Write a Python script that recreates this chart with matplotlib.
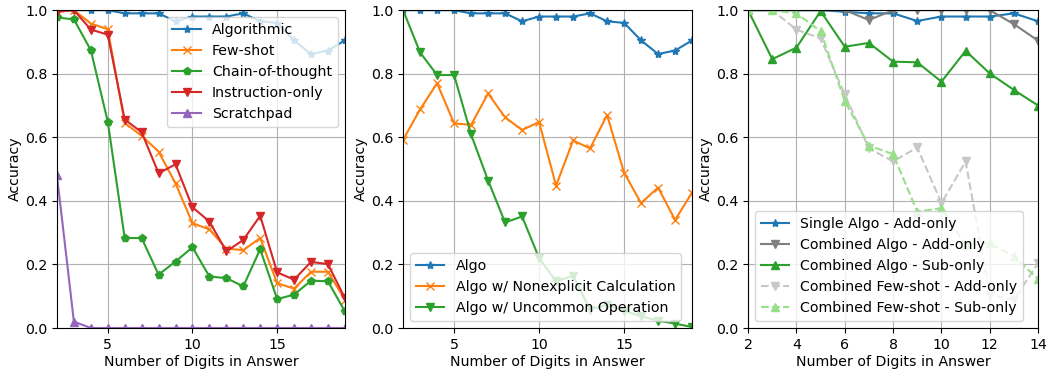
import matplotlib
matplotlib.use("Agg")
import matplotlib.pyplot as plt

plt.rcParams['font.family'] = ['DejaVu Sans']
plt.rcParams['font.size'] = 10.2

# Panel 1: prompting strategies
digits_a = list(range(2, 20))
algorithmic = [1.0, 1.0, 1.0, 1.0, 0.99, 0.99, 0.99, 0.965, 0.98, 0.98, 0.98, 0.99,
               0.965, 0.96, 0.905, 0.862, 0.873, 0.905]
few_shot = [0.995, 1.0, 0.958, 0.94, 0.645, 0.605, 0.555, 0.455, 0.33, 0.31, 0.25, 0.245,
            0.283, 0.141, 0.124, 0.177, 0.177, 0.089]
chain_of_thought = [0.977, 0.971, 0.874, 0.649, 0.283, 0.283, 0.168, 0.209, 0.254, 0.162,
                    0.157, 0.131, 0.248, 0.091, 0.105, 0.149, 0.147, 0.052]
instruction_only = [0.995, 1.0, 0.939, 0.923, 0.656, 0.616, 0.487, 0.515, 0.38, 0.335,
                    0.241, 0.277, 0.353, 0.175, 0.152, 0.208, 0.201, 0.094]
scratchpad = [0.48, 0.02, 0.0, 0.0, 0.0, 0.0, 0.0, 0.0, 0.0, 0.0, 0.0, 0.0, 0.0, 0.0,
              0.0, 0.0, 0.0, 0.0]

# Panel 2: algorithm variants
nonexplicit = [0.592, 0.688, 0.77, 0.644, 0.639, 0.738, 0.663, 0.623, 0.648, 0.448, 0.59,
               0.565, 0.67, 0.489, 0.393, 0.442, 0.34, 0.426]
uncommon = [1.0, 0.867, 0.796, 0.796, 0.609, 0.464, 0.332, 0.351, 0.22, 0.147, 0.164,
            0.058, 0.073, 0.054, 0.037, 0.023, 0.014, 0.003]

# Panel 3: combined add / sub
digits_c = list(range(2, 15))
single_add = [1.0, 1.0, 1.0, 1.0, 0.995, 0.99, 0.99, 0.966, 0.98, 0.98, 0.98, 0.99, 0.965]
comb_add = [1.0, 1.0, 1.0, 1.0, 1.0, 0.969, 1.0, 1.0, 1.0, 1.0, 1.0, 0.956, 0.904]
comb_sub = [1.0, 0.846, 0.882, 0.997, 0.885, 0.897, 0.838, 0.836, 0.775, 0.872, 0.801,
            0.749, 0.7]
fs_add = [1.0, 1.0, 0.939, 0.911, 0.735, 0.565, 0.524, 0.568, 0.393, 0.524, 0.105, 0.089,
          0.204]
fs_sub = [1.0, 1.0, 0.99, 0.934, 0.714, 0.574, 0.547, 0.366, 0.377, 0.26, 0.267, 0.225,
          0.154]

fig = plt.figure(figsize=(10.47, 3.7), dpi=100)
ax1 = fig.add_axes([0.0544, 0.1135, 0.275, 0.859])
ax2 = fig.add_axes([0.385, 0.1135, 0.276, 0.859])
ax3 = fig.add_axes([0.7145, 0.1135, 0.277, 0.859])

ms = 6
ax1.plot(digits_a, algorithmic, '-*', color='tab:blue', ms=ms, label='Algorithmic')
ax1.plot(digits_a, few_shot, '-x', color='tab:orange', ms=ms, label='Few-shot')
ax1.plot(digits_a, chain_of_thought, '-p', color='tab:green', ms=ms, label='Chain-of-thought')
ax1.plot(digits_a, instruction_only, '-v', color='tab:red', ms=ms, label='Instruction-only')
ax1.plot(digits_a, scratchpad, '-^', color='tab:purple', ms=ms, label='Scratchpad')
ax1.set_xlim(2, 19)
ax1.legend(loc='upper right')

ax2.plot(digits_a, algorithmic, '-*', color='tab:blue', ms=ms, label='Algo')
ax2.plot(digits_a, nonexplicit, '-x', color='tab:orange', ms=ms,
         label='Algo w/ Nonexplicit Calculation')
ax2.plot(digits_a, uncommon, '-v', color='tab:green', ms=ms,
         label='Algo w/ Uncommon Operation')
ax2.set_xlim(2, 19)
ax2.legend(loc='lower left')

ax3.plot(digits_c, single_add, '-*', color='tab:blue', ms=ms, label='Single Algo - Add-only')
ax3.plot(digits_c, comb_add, '-v', color='tab:gray', ms=ms, label='Combined Algo - Add-only')
ax3.plot(digits_c, comb_sub, '-^', color='tab:green', ms=ms, label='Combined Algo - Sub-only')
ax3.plot(digits_c, fs_add, '--v', color='#c7c7c7', ms=ms,
         label='Combined Few-shot - Add-only')
ax3.plot(digits_c, fs_sub, '--^', color='#98df8a', ms=ms,
         label='Combined Few-shot - Sub-only')
ax3.set_xlim(2, 14)
ax3.set_xticks(range(2, 15, 2))
ax3.legend(loc='lower left')

for ax in (ax1, ax2, ax3):
    ax.set_ylim(0, 1.0)
    ax.grid(True)
    ax.set_xlabel('Number of Digits in Answer', labelpad=2)
    ax.set_ylabel('Accuracy', labelpad=2)

fig.savefig('out.png', dpi=100)
